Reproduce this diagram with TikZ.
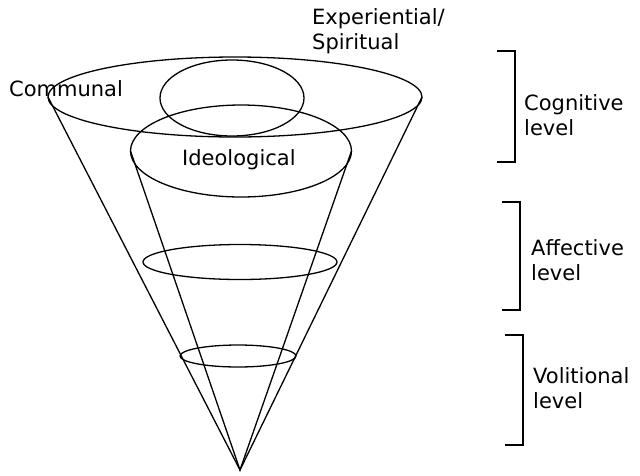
\documentclass[tikz,border=0pt]{standalone}
\usepackage{fontspec}
\setmainfont{DejaVu Sans}
\usetikzlibrary{shapes.geometric}

\begin{document}
\begin{tikzpicture}[x=1pt, y=-1pt, font=\fontsize{21}{25.5}\selectfont,
  ring/.style={draw, ellipse, inner sep=0pt, outer sep=0pt, line width=1.3pt},
  line/.style={line width=1.3pt},
  bracket/.style={line width=1.4pt},
  label/.style={anchor=west, align=left, inner sep=0pt}]
\useasboundingbox (0,0) rectangle (640,475);
\coordinate (apex) at (240,470);
\node[ring, minimum width=374pt, minimum height=80pt] (communal) at (235,97) {};
\node[ring, minimum width=144pt, minimum height=76pt] (spiritual) at (232,98) {};
\node[ring, minimum width=221pt, minimum height=92pt] (ideological) at (241,151) {};
\node[ring, minimum width=194pt, minimum height=35pt] (affective) at (240,262) {};
\node[ring, minimum width=116pt, minimum height=22pt] (volitional) at (238,356) {};
\draw[line] (communal.west) -- (apex) -- (communal.east);
\draw[line] (ideological.west) -- (apex) -- (ideological.east);
\node[label] (communaltext) at (9,89) {Communal};
\node[label] (spiritualtext) at (312,31) {Experiential/\\Spiritual};
\node[label] (ideologicaltext) at (182,160) {Ideological};
\node[label] (cognitivetext) at (524,115) {Cognitive\\level};
\node[label] (affectivetext) at (531,260) {Affective\\level};
\node[label] (volitionaltext) at (533,388) {Volitional\\level};
\draw[bracket] (497,51) -- (515,51) -- (515,162) -- (497,162);
\draw[bracket] (502,202) -- (520,202) -- (520,310) -- (502,310);
\draw[bracket] (505,335) -- (523,335) -- (523,445) -- (505,445);
\end{tikzpicture}
\end{document}
